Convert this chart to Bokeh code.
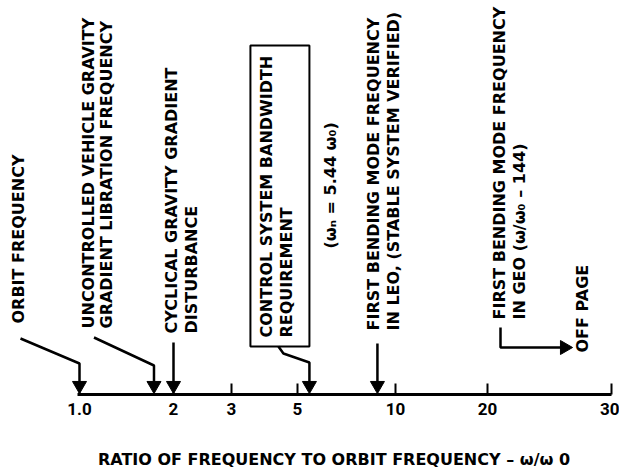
import numpy as np
from bokeh.plotting import figure
from bokeh.models import Range1d, LinearAxis, FixedTicker, ColumnDataSource
from bokeh.core.properties import value
from bokeh.embed import file_html
from bokeh.resources import INLINE

# ---------------- data ----------------
tick_values = [1.0, 2, 3, 5, 10, 20, 30]
tick_labels = ["1.0", "2", "3", "5", "10", "20", "30"]
# the source figure's axis is hand-drawn and not a true log scale:
# printed position of each tick along the axis (axis units)
tick_axis_pos = [0, 94, 152, 218, 316, 408, 532]

event_ratio = [1.0, 1.732, 2.0, 5.44, 8.8]          # omega / omega0
geo_ratio = 144.0                                    # off page
label_lines = [
    ["ORBIT FREQUENCY"],
    ["UNCONTROLLED VEHICLE GRAVITY", "GRADIENT LIBRATION FREQUENCY"],
    ["CYCLICAL GRAVITY GRADIENT", "DISTURBANCE"],
    ["CONTROL SYSTEM BANDWIDTH", "REQUIREMENT"],
    ["FIRST BENDING MODE FREQUENCY", "IN LEO, (STABLE SYSTEM VERIFIED)"],
    ["FIRST BENDING MODE FREQUENCY", "IN GEO (\u03c9/\u03c9\u2080 \u2013 144)"],
]
note_text = "(\u03c9\u2099 = 5.44 \u03c9\u2080)"
offpage_text = "OFF PAGE"
x_title = "RATIO OF FREQUENCY TO ORBIT FREQUENCY \u2013 \u03c9/\u03c9 0"

# ---------------- scale ----------------
def axis_x(v):
    return float(np.interp(np.log10(v), np.log10(tick_values), tick_axis_pos))

LBL_FONT = "DejaVu Sans"
TICK_FONT = "Roboto"

p = figure(width=619, height=473, output_backend="svg", toolbar_location=None,
           title=None, x_axis_type=None, y_axis_type=None,
           x_range=Range1d(-79, 540), y_range=Range1d(0, 394),
           min_border_left=0, min_border_right=0, min_border_top=0, min_border_bottom=79)
p.outline_line_color = None
p.background_fill_color = "white"

ax = LinearAxis(ticker=FixedTicker(ticks=tick_axis_pos),
                major_label_overrides={t: l for t, l in zip(tick_axis_pos, tick_labels)},
                bounds=(axis_x(tick_values[0]) - 2, axis_x(tick_values[-1])))
ax.axis_line_width = 3
ax.axis_line_color = "black"
ax.major_tick_in = 11
ax.major_tick_out = 0
ax.major_tick_line_width = 2
ax.minor_tick_line_color = None
ax.major_label_standoff = 8
ax.major_label_text_font = TICK_FONT
ax.major_label_text_font_style = "bold"
ax.major_label_text_font_size = "17px"
ax.major_label_text_color = "black"
# leading em spaces shift the centred title right, as in the source
ax.axis_label = "\u2003\u2003\u2003" + x_title
ax.axis_label_text_font = LBL_FONT
ax.axis_label_text_font_style = "bold"
ax.axis_label_text_font_size = "16px"
ax.axis_label_text_color = "black"
ax.axis_label_standoff = 32
p.add_layout(ax, "below")

# ---------------- arrows ----------------
xo, xl, xc, xk, xb = [axis_x(v) for v in event_ratio]
xs = [
    [xo - 59, xo, xo],
    [xl - 60, xl, xl],
    [xc, xc],
    [xk - 31, xk - 26, xk, xk],
    [xb, xb],
]
ys = [
    [56, 31, 12],
    [57, 29, 12],
    [52, 12],
    [48, 41, 32, 12],
    [51, 12],
]
p.multi_line(xs, ys, line_color="black", line_width=2.5)
p.scatter([xo, xl, xc, xk, xb], [9] * 5, marker="inverted_triangle", size=14,
          fill_color="black", line_color="black")

# geo arrow (off page to the right)
gx = 421
p.line([gx, gx, 484], [67, 47, 47], line_color="black", line_width=2.5)
p.scatter([485], [47], marker="triangle", angle=-np.pi / 2, size=14,
          fill_color="black", line_color="black")

# box around control system requirement
p.quad(left=[xk - 59], right=[xk], bottom=[48], top=[349],
       fill_color=None, line_color="black", line_width=2)

# ---------------- rotated labels ----------------
first_x = [-61, 9, 92, 187, 294, 420]
bottom_y = [71, 66, 61, 57, 64, 75]
gaps = [0, 18, 20, 20, 20, 20]
tx, ty, tt = [], [], []
for lines, x0, y0, g in zip(label_lines, first_x, bottom_y, gaps):
    for i, s in enumerate(lines):
        tx.append(x0 + i * g)
        ty.append(y0)
        tt.append(s)
tx += [251, 503]
ty += [146, 42]
tt += [note_text, offpage_text]
src = ColumnDataSource(dict(x=tx, y=ty, text=tt))
p.text("x", "y", text="text", source=src, angle=np.pi / 2,
       text_align="left", text_baseline="middle",
       text_font=value(LBL_FONT), text_font_style="bold", text_font_size="16px",
       text_color="black")

open("out.html", "w").write(file_html(p, INLINE))
